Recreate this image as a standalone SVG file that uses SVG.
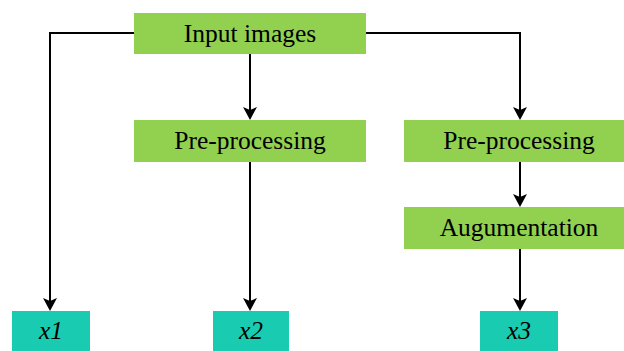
<svg xmlns="http://www.w3.org/2000/svg" width="624" height="351" viewBox="0 0 624 351">
<style>
.g{fill:#92D050}
.t{fill:#19CCB1}
.lbl{font-family:'Liberation Serif','Times New Roman','DejaVu Serif',serif;font-size:25.5px;fill:#000;text-anchor:middle}
.it{font-style:italic}
.c{fill:none;stroke:#000;stroke-width:2}
</style>
<defs>
<path id="ah" d="M-7,-13 L0,0 L7,-13 L0,-10 Z" fill="#000"/>
</defs>
<g id="connectors">
<path class="c" d="M134,33 H50 V305"/>
<path class="c" d="M366,33 H520 V114"/>
<path class="c" d="M250,54 V114"/>
<path class="c" d="M250,162 V305"/>
<path class="c" d="M520,162 V201"/>
<path class="c" d="M520,249 V305"/>
<use href="#ah" x="50" y="311"/>
<use href="#ah" x="520" y="120"/>
<use href="#ah" x="250" y="120"/>
<use href="#ah" x="250" y="311"/>
<use href="#ah" x="520" y="207"/>
<use href="#ah" x="520" y="311"/>
</g>
<g id="input">
<rect class="g" x="134" y="13" width="232" height="41"/>
<text class="lbl" x="250" y="42">Input images</text>
</g>
<g id="pre1">
<rect class="g" x="134" y="120" width="232" height="42"/>
<text class="lbl" x="250" y="149">Pre-processing</text>
</g>
<g id="pre2">
<rect class="g" x="404" y="120" width="232" height="42"/>
<text class="lbl" x="519" y="149">Pre-processing</text>
</g>
<g id="aug">
<rect class="g" x="404" y="207" width="232" height="42"/>
<text class="lbl" x="519" y="236">Augumentation</text>
</g>
<g id="x1">
<rect class="t" x="12" y="311" width="78" height="45"/>
<text class="lbl it" x="51" y="339">x1</text>
</g>
<g id="x2">
<rect class="t" x="213" y="311" width="76" height="45"/>
<text class="lbl it" x="251" y="339">x2</text>
</g>
<g id="x3">
<rect class="t" x="480" y="311" width="78" height="45"/>
<text class="lbl it" x="519" y="339">x3</text>
</g>
</svg>
